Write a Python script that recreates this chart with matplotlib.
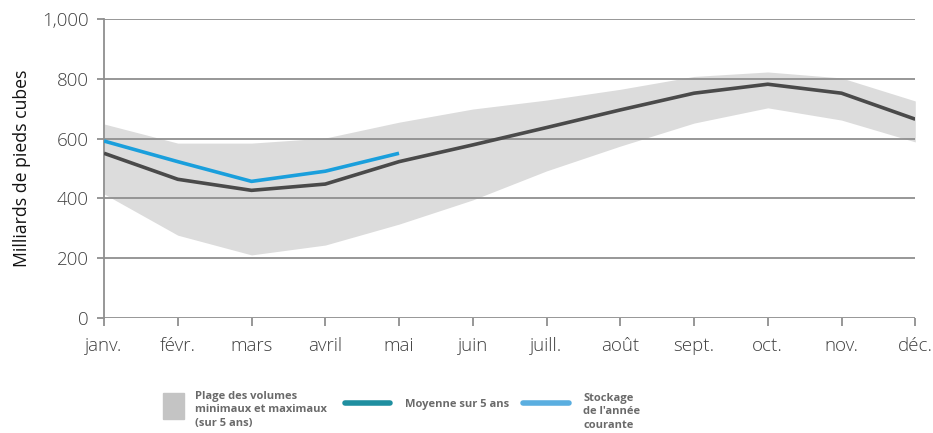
import matplotlib.pyplot as plt
from matplotlib.patches import Rectangle
from matplotlib.lines import Line2D

plt.rcParams['font.family'] = ['Open Sans', 'DejaVu Sans']

months = ['janv.', 'févr.', 'mars', 'avril', 'mai', 'juin', 'juill.', 'août',
          'sept.', 'oct.', 'nov.', 'déc.']
band_low = [415, 277, 211, 244, 314, 395, 492, 575, 652, 703, 662, 589]
band_high = [649, 585, 585, 602, 655, 699, 729, 765, 808, 823, 803, 726]
avg_5y = [551, 464, 427, 448, 523, 579, 637, 696, 752, 782, 752, 665]
current = [592, 523, 457, 491, 551]

yticks = [0, 200, 400, 600, 800, 1000]
ytick_labels = ['0', '200', '400', '600', '800', '1,000']

fig = plt.figure(figsize=(9.33, 4.33), dpi=100)
ax = fig.add_axes([0.1115, 0.2656, 0.8695, 0.6904])

x = list(range(len(months)))
ax.fill_between(x, band_low, band_high, color='#dcdcdc', lw=0, zorder=1)
ax.plot(x, avg_5y, color='#4a4a4a', lw=2.6, zorder=3, solid_capstyle='butt')
ax.plot(x[:len(current)], current, color='#1a9fdc', lw=2.6, zorder=4,
        solid_capstyle='butt')

ax.set_xlim(0, 11)
ax.set_ylim(0, 1000)
ax.set_yticks(yticks)
ax.set_yticklabels(ytick_labels, fontweight='light')
ax.set_xticks(x)
ax.set_xticklabels(months, fontweight='light')
ax.yaxis.grid(True, color='#8f8f8f', lw=1.3, zorder=2)
ax.set_axisbelow(False)
for s in ['top', 'right', 'bottom']:
    ax.spines[s].set_visible(False)
ax.spines['left'].set_color('#8f8f8f')
ax.spines['left'].set_linewidth(1.3)
ax.spines['left'].set_zorder(2)
ax.tick_params(axis='x', length=6, width=1.3, color='#8f8f8f', labelsize=13.5,
               labelcolor='#404040', pad=8)
ax.tick_params(axis='y', length=5, width=1.3, color='#8f8f8f', labelsize=13.5,
               labelcolor='#404040', pad=6)
ax.set_ylabel('Milliards de pieds cubes', fontsize=12.7, color='#111111',
              labelpad=8)

# legend drawn below the plot
W, H = 933, 433
def fx(px):
    return px / W
def fy(py):
    return 1 - py / H

fig.add_artist(Rectangle((fx(163), fy(419)), 21 / W, 26 / H, color='#c4c4c4',
                         transform=fig.transFigure))
fig.text(fx(195), fy(410), 'Plage des volumes\nminimaux et maximaux\n(sur 5 ans)',
         fontsize=8, fontweight='bold', color='#6a6a6a', va='center', ha='left',
         linespacing=1.3)
fig.add_artist(Line2D([fx(345), fx(390)], [fy(403), fy(403)], color='#1f8fa0',
                      lw=4, solid_capstyle='round', transform=fig.transFigure))
fig.text(fx(405), fy(404), 'Moyenne sur 5 ans', fontsize=8, fontweight='bold',
         color='#6a6a6a', va='center', ha='left')
fig.add_artist(Line2D([fx(523), fx(569)], [fy(403), fy(403)], color='#5aaee0',
                      lw=4, solid_capstyle='round', transform=fig.transFigure))
fig.text(fx(583), fy(412), "Stockage\nde l'année\ncourante", fontsize=8,
         fontweight='bold', color='#6a6a6a', va='center', ha='left',
         linespacing=1.3)

fig.savefig('out.png', dpi=100)
